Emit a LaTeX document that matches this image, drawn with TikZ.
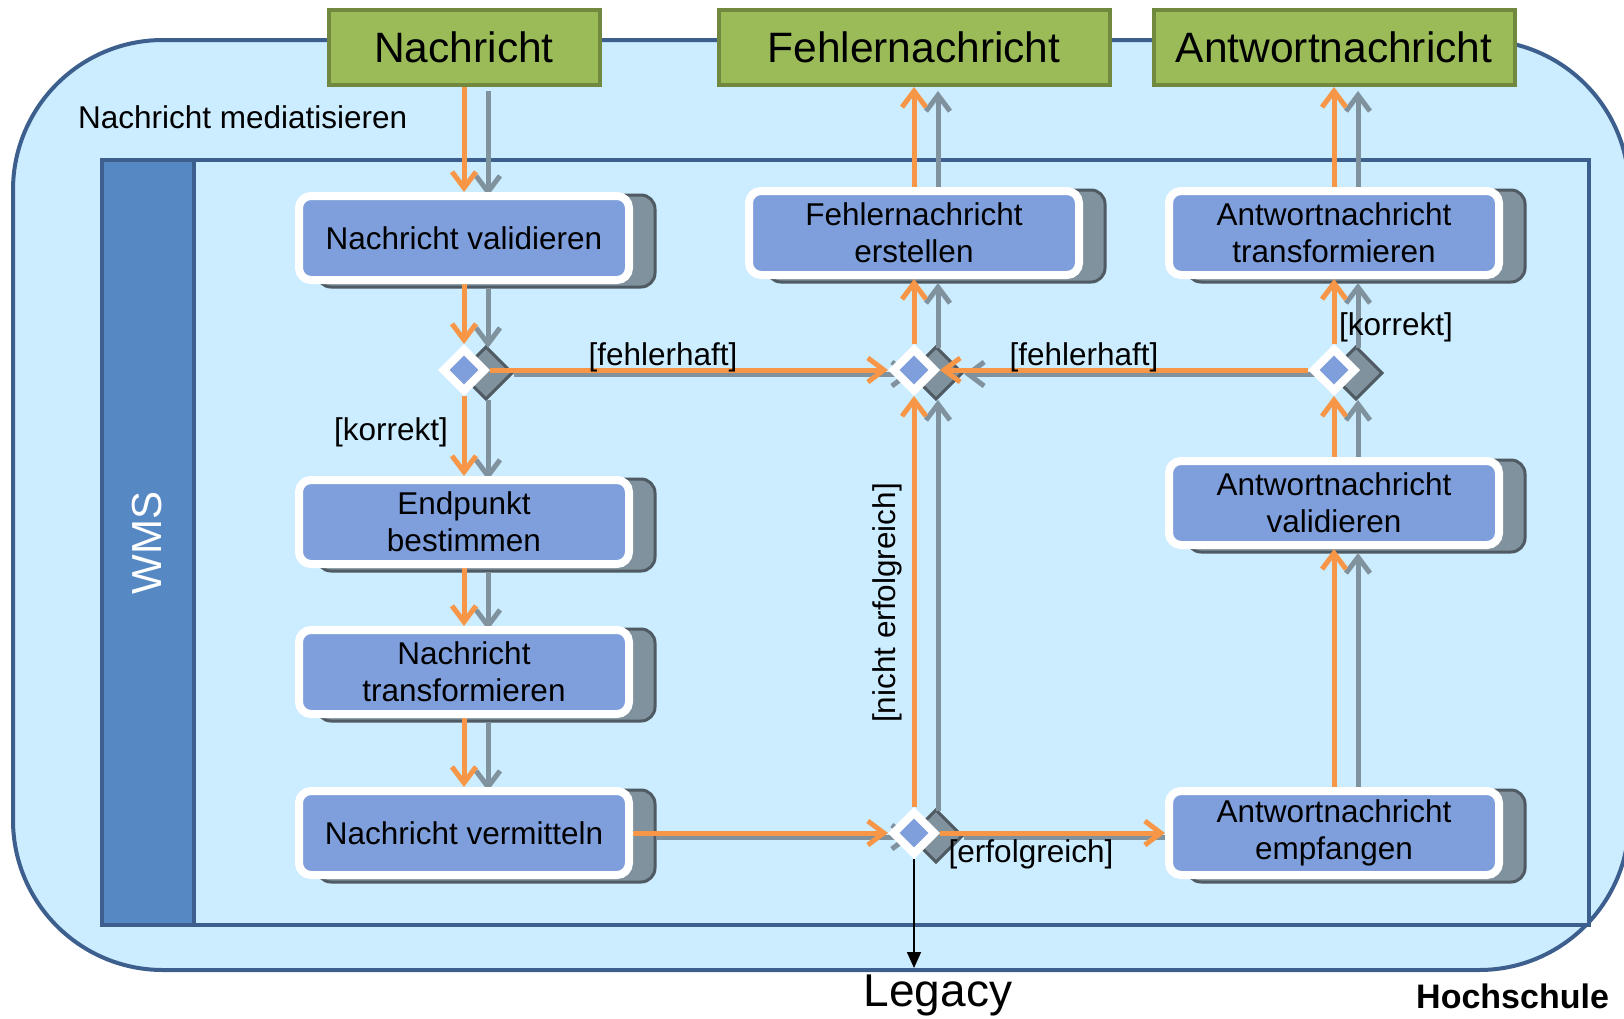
\documentclass[tikz,border=0pt]{standalone}
\usepackage{fontspec}
\setmainfont{Liberation Sans}
\usetikzlibrary{arrows.meta,shapes.geometric}

\pgfdeclarelayer{back}
\pgfdeclarelayer{shade}
\pgfdeclarelayer{lines}
\pgfsetlayers{back,shade,lines,main}

\definecolor{regionfill}{HTML}{CCECFF}
\definecolor{regionline}{HTML}{3C5F8E}
\definecolor{lanebar}{HTML}{5689C4}
\definecolor{objfill}{HTML}{9BBB59}
\definecolor{objline}{HTML}{71893F}
\definecolor{actfill}{HTML}{7F9FDC}
\definecolor{shadefill}{HTML}{7F929E}
\definecolor{shadeline}{HTML}{4F5A62}
\definecolor{flowline}{HTML}{F79646}

\tikzset{
  txt/.style={font=\fontsize{31.5}{37}\selectfont},
  action/.style={rectangle, rounded corners=12pt, fill=actfill, draw=white,
    line width=8pt, minimum width=330pt, minimum height=84pt, inner sep=0pt,
    align=center, txt},
  decision/.style={diamond, fill=actfill, draw=white, line width=8pt,
    minimum width=44pt, minimum height=44pt, inner sep=0pt},
  object/.style={rectangle, fill=objfill, draw=objline, line width=4pt,
    minimum height=75pt, inner sep=0pt, font=\fontsize{42.5}{50}\selectfont},
  guard/.style={txt, inner sep=0pt},
  flowarrow/.style={draw=flowline, line width=5pt,
    -{Straight Barb[length=16pt,width=24pt]}},
  shadowarrow/.style={draw=shadefill, line width=5pt,
    -{Straight Barb[length=16pt,width=24pt]},
    transform canvas={shift={(24pt,-4pt)}}},
  shadowbox/.style={fill=shadefill, draw=shadeline, line width=3pt,
    transform canvas={shift={(22pt,-3pt)}}},
}

% one control flow: offset grey shadow plus the orange arrow on top
\newcommand\flowpair[2]{%
  \begin{pgfonlayer}{shade}
    \draw[shadowarrow] (#1) -- (#2);
  \end{pgfonlayer}
  \begin{pgfonlayer}{lines}
    \draw[flowarrow] (#1) -- (#2);
  \end{pgfonlayer}}

\begin{document}
\begin{tikzpicture}[x=1pt,y=-1pt]
\useasboundingbox (0,0) rectangle (1624,1018);

% activity region and WMS partition
\begin{pgfonlayer}{back}
  \draw[fill=regionfill, draw=regionline, line width=4pt, rounded corners=150pt]
    (13,40) rectangle (1629,970);
  \draw[fill=regionfill, draw=regionline, line width=4pt] (102,160) rectangle (1589,925);
  \draw[fill=lanebar, draw=regionline, line width=4pt] (102,160) rectangle (194,925);
\end{pgfonlayer}
\node[rotate=90, text=white, font=\fontsize{42}{50}\selectfont] (wms) at (147,543) {WMS};
\node[guard, anchor=base west] (title) at (78,128) {Nachricht mediatisieren};

% object nodes
\node[object, minimum width=271pt] (h1) at (464,47.5) {Nachricht};
\node[object, minimum width=391pt] (h2) at (914,47.5) {Fehlernachricht};
\node[object, minimum width=361pt] (h3) at (1334,47.5) {Antwortnachricht};

% actions
\node[action] (n1) at (464,238) {Nachricht validieren};
\node[action] (n2) at (464,522) {Endpunkt\\bestimmen};
\node[action] (n3) at (464,672) {Nachricht\\transformieren};
\node[action] (n4) at (464,833) {Nachricht vermitteln};
\node[action] (n5) at (914,233) {Fehlernachricht\\erstellen};
\node[action] (n6) at (1334,233) {Antwortnachricht\\transformieren};
\node[action] (n7) at (1334,503) {Antwortnachricht\\validieren};
\node[action] (n8) at (1334,833) {Antwortnachricht\\empfangen};

% decisions
\node[decision] (d1) at (464,370) {};
\node[decision] (d2) at (914,370) {};
\node[decision] (d3) at (914,833) {};
\node[decision] (d4) at (1334,370) {};

% extruded shadows of actions and decisions
\begin{pgfonlayer}{shade}
  \foreach \n in {n1,n2,n3,n4,n5,n6,n7,n8}
    {\draw[shadowbox, rounded corners=14pt] (\n.south west) rectangle (\n.north east);}
  \foreach \n in {d1,d2,d3,d4}
    {\draw[shadowbox] (\n.north) -- (\n.east) -- (\n.south) -- (\n.west) -- cycle;}
\end{pgfonlayer}

% control flows
\flowpair{h1.south}{n1.north}
\flowpair{n1.south}{d1.north}
\flowpair{d1.east}{d2.west}
\flowpair{d1.south}{n2.north}
\flowpair{n2.south}{n3.north}
\flowpair{n3.south}{n4.north}
\flowpair{n4.east}{d3.west}
\flowpair{d3.north}{d2.south}
\flowpair{d3.east}{n8.west}
\flowpair{n8.north}{n7.south}
\flowpair{n7.north}{d4.south}
\flowpair{d4.north}{n6.south}
\flowpair{d4.west}{d2.east}
\flowpair{d2.north}{n5.south}
\flowpair{n5.north}{h2.south}
\flowpair{n6.north}{h3.south}

% hand-over to the legacy system
\coordinate (legacyin) at (914,968);
\begin{pgfonlayer}{lines}
  \draw[line width=1.6pt, -{Triangle[length=16pt,width=14pt]}] (d3.south) -- (legacyin);
\end{pgfonlayer}
\node[font=\fontsize{46}{55}\selectfont, anchor=base] (legacy) at (938,1006) {Legacy};

% guards
\node[guard, anchor=base] (gf1) at (663,365) {[fehlerhaft]};
\node[guard, anchor=base] (gf2) at (1084,365) {[fehlerhaft]};
\node[guard, anchor=base] (gk1) at (391,440) {[korrekt]};
\node[guard, anchor=base] (gk2) at (1396,335) {[korrekt]};
\node[guard, anchor=base] (ge) at (1031,862) {[erfolgreich]};
\node[guard, rotate=90] (gn) at (887,603) {[nicht erfolgreich]};

\node[font=\bfseries\fontsize{34}{41}\selectfont, anchor=base west, inner sep=0pt]
  (footer) at (1416,1008) {Hochschule};
\end{tikzpicture}
\end{document}
